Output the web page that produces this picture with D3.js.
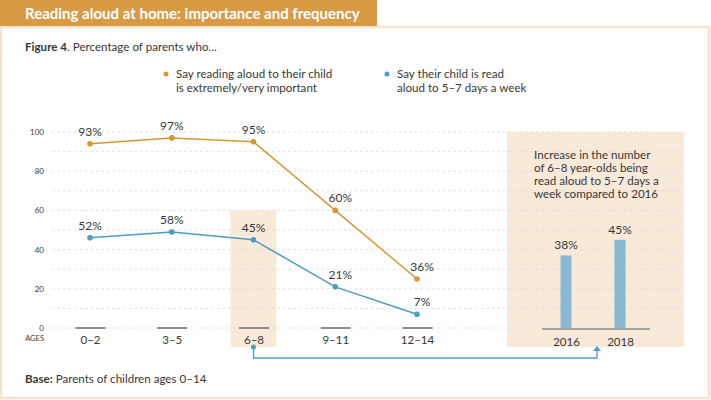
<!DOCTYPE html>
<html>
<head>
<meta charset="utf-8">
<script src="https://cdn.jsdelivr.net/npm/d3@7"></script>
<style>
  html, body { margin: 0; padding: 0; background: #fff; }
  svg { display: block; font-family: Lato, "Open Sans", sans-serif; }
</style>
</head>
<body>
<div id="chart"></div>
<script>
const width = 711;
const height = 400;

// data
const ages = ["0–2", "3–5", "6–8", "9–11", "12–14"];
const importantValues = [94, 97, 95, 60, 25];
const importantLabels = ["93%", "97%", "95%", "60%", "36%"];
const readValues = [46, 49, 45, 21, 7];
const readLabels = ["52%", "58%", "45%", "21%", "7%"];
const years = ["2016", "2018"];
const yearValues = [37, 45];
const yearLabels = ["38%", "45%"];
const yTicks = [0, 20, 40, 60, 80, 100];
const gridTicks = d3.range(0, 101, 10);

const orange = "#da9636";
const blue = "#4b9ec4";
const barBlue = "#8ab7d2";
const peach = "#f9e9d8";
const textColor = "#383838";

const svg = d3.select("#chart").append("svg").attr("width", width).attr("height", height);

// header band and panel frame
svg.append("rect").attr("x", 1).attr("y", 27).attr("width", 708).attr("height", 371)
    .attr("fill", "#fff").attr("stroke", "#f6e3cc").attr("stroke-width", 2.5);
svg.append("rect").attr("x", 0).attr("y", 0).attr("width", 377).attr("height", 26).attr("fill", "#d99a45");
svg.append("text").attr("x", 25).attr("y", 19)
    .style("font-size", "15px").style("font-weight", 700).style("fill", "#fff")
    .text("Reading aloud at home: importance and frequency");

// figure caption
const cap = svg.append("text").attr("x", 25).attr("y", 51).style("font-size", "11.6px").style("fill", textColor);
cap.append("tspan").style("font-weight", 700).text("Figure 4");
cap.append("tspan").text(". Percentage of parents who...");

// legend
const legend = [
    {color: orange, x: 166, lines: ["Say reading aloud to their child", "is extremely/very important"]},
    {color: blue, x: 387, lines: ["Say their child is read", "aloud to 5–7 days a week"]}
];
legend.forEach(l => {
    svg.append("circle").attr("cx", l.x).attr("cy", 74).attr("r", 2.5).attr("fill", l.color);
    svg.append("text").attr("x", l.x + 10).attr("y", 78).style("font-size", "11.6px").style("fill", textColor)
        .selectAll("tspan").data(l.lines).join("tspan")
        .attr("x", l.x + 10).attr("dy", (d, i) => i ? 13.5 : 0).text(d => d);
});

// scales
const y = d3.scaleLinear().domain([0, 100]).range([328, 132]);
const x = d3.scalePoint().domain(ages).range([90, 417]);
const xb = d3.scalePoint().domain(years).range([566, 620]);

// highlight boxes
svg.append("rect").attr("x", x("6–8") - 23).attr("y", y(60)).attr("width", 46).attr("height", 347 - y(60)).attr("fill", peach);
svg.append("rect").attr("x", 507).attr("y", y(100)).attr("width", 177).attr("height", 347 - y(100)).attr("fill", peach);

// grid
svg.append("g").selectAll("line").data(gridTicks).join("line")
    .attr("x1", 52).attr("x2", 685).attr("y1", d => y(d)).attr("y2", d => y(d))
    .attr("stroke", "#d9d9d9").attr("stroke-width", 0.8).attr("stroke-dasharray", "2.5,3");

// y axis labels
const yAxis = svg.append("g").attr("transform", "translate(44,0)")
    .call(d3.axisLeft(y).tickValues(yTicks).tickSize(0).tickPadding(0));
yAxis.select(".domain").remove();
yAxis.selectAll("text").style("font-family", "Lato, sans-serif").style("font-size", "8px").style("fill", textColor);

svg.append("text").attr("x", 44).attr("y", 341).attr("text-anchor", "end")
    .style("font-size", "7.5px").style("fill", textColor).text("AGES");

// x tick bars and labels
const xAxis = svg.append("g").attr("transform", "translate(0,328)")
    .call(d3.axisBottom(x).tickSize(0).tickPadding(8));
xAxis.select(".domain").remove();
xAxis.selectAll(".tick").append("line").attr("x1", -15).attr("x2", 15)
    .attr("stroke", "#8c8c8c").attr("stroke-width", 2);
xAxis.selectAll("text").style("font-family", "Lato, sans-serif").style("font-size", "11.5px").style("fill", textColor);

// lines
const series = [
    {values: importantValues, labels: importantLabels, color: orange},
    {values: readValues, labels: readLabels, color: blue}
];
const line = d3.line().x((d, i) => x(ages[i])).y(d => y(d));
series.forEach(s => {
    svg.append("path").attr("d", line(s.values)).attr("fill", "none")
        .attr("stroke", s.color).attr("stroke-width", 1.5);
    svg.append("g").selectAll("circle").data(s.values).join("circle")
        .attr("cx", (d, i) => x(ages[i])).attr("cy", d => y(d)).attr("r", 2.8).attr("fill", s.color);
    svg.append("g").selectAll("text").data(s.values).join("text")
        .attr("x", (d, i) => x(ages[i]) + (i > 2 ? 5 : 0)).attr("y", d => y(d) - 8)
        .attr("text-anchor", "middle").style("font-size", "12px").style("fill", textColor)
        .text((d, i) => s.labels[i]);
});

// right panel
svg.append("text").attr("x", 534).attr("y", 159).style("font-size", "11.6px").style("fill", textColor)
    .selectAll("tspan")
    .data(["Increase in the number", "of 6–8 year-olds being", "read aloud to 5–7 days a", "week compared to 2016"])
    .join("tspan").attr("x", 534).attr("dy", (d, i) => i ? 13 : 0).text(d => d);

svg.append("g").selectAll("rect").data(yearValues).join("rect")
    .attr("x", (d, i) => xb(years[i]) - 5.5).attr("y", d => y(d))
    .attr("width", 11).attr("height", d => y(0) - y(d)).attr("fill", barBlue);
svg.append("g").selectAll("text").data(yearValues).join("text")
    .attr("x", (d, i) => xb(years[i])).attr("y", d => y(d) - 6)
    .attr("text-anchor", "middle").style("font-size", "12px").style("fill", textColor)
    .text((d, i) => yearLabels[i]);

const barAxis = svg.append("g").attr("transform", "translate(0,329)")
    .call(d3.axisBottom(xb).tickSize(0).tickPadding(9));
barAxis.select(".domain").remove();
barAxis.append("line").attr("x1", 542).attr("x2", 650).attr("stroke", "#8c8c8c").attr("stroke-width", 1.5);
barAxis.selectAll("text").style("font-family", "Lato, sans-serif").style("font-size", "11.5px").style("fill", textColor);

// connector arrow
const ax0 = x("6–8");
const ax1 = 597;
svg.append("circle").attr("cx", ax0).attr("cy", 347).attr("r", 2.5).attr("fill", blue);
svg.append("path").attr("d", `M${ax0},347 V358 H${ax1} V350`)
    .attr("fill", "none").attr("stroke", blue).attr("stroke-width", 1.3);
svg.append("path").attr("d", `M${ax1 - 4},351 L${ax1},346 L${ax1 + 4},351 Z`).attr("fill", blue);

// footnote
const foot = svg.append("text").attr("x", 25).attr("y", 383).style("font-size", "11.6px").style("fill", textColor);
foot.append("tspan").style("font-weight", 700).text("Base:");
foot.append("tspan").text(" Parents of children ages 0–14");
</script>
</body>
</html>
